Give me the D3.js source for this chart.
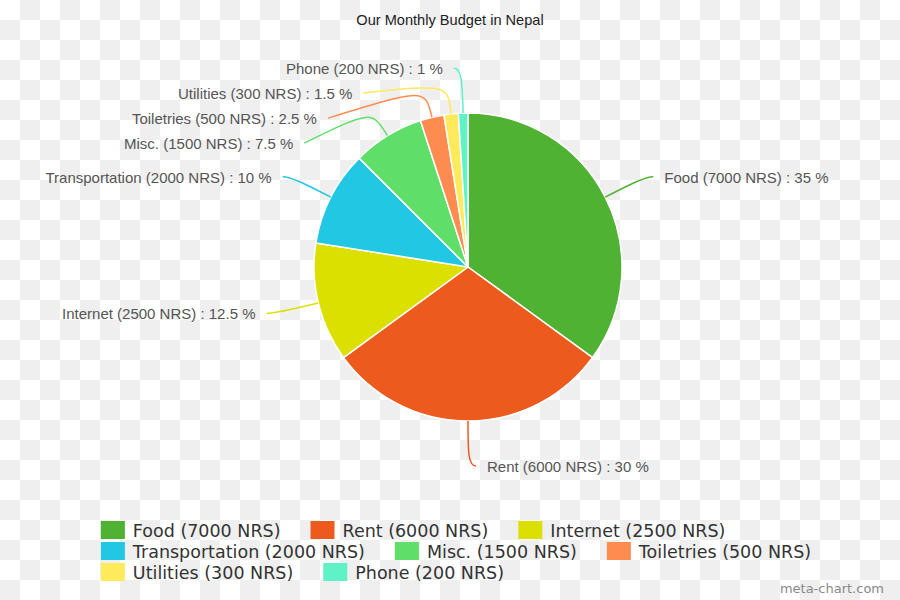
<!DOCTYPE html>
<html><head><meta charset="utf-8">
<script src="https://cdn.jsdelivr.net/npm/d3@7"></script>
<style>
body{margin:0;background:#fff;}
svg{display:block;}
</style></head><body>
<svg id="c" width="900" height="600"></svg>
<script>
const title = "Our Monthly Budget in Nepal";
const categories = ["Food","Rent","Internet","Transportation","Misc.","Toiletries","Utilities","Phone"];
const amounts = [7000,6000,2500,2000,1500,500,300,200];
const colors = ["#4fb233","#ec5a1e","#dce000","#22c8e3","#5fdf6a","#fe8c50","#feea5a","#5ef2c6"];
const currency = "NRS";
const watermark = "meta-chart.com";

const W = 900, H = 600;
const svg = d3.select("#c");

// checkerboard (transparent background look)
const defs = svg.append("defs");
const pat = defs.append("pattern").attr("id","chk").attr("width",40).attr("height",40).attr("patternUnits","userSpaceOnUse");
pat.append("rect").attr("width",40).attr("height",40).attr("fill","#ffffff");
pat.append("rect").attr("x",20).attr("y",0).attr("width",20).attr("height",20).attr("fill","#efefef");
pat.append("rect").attr("x",0).attr("y",20).attr("width",20).attr("height",20).attr("fill","#efefef");
svg.append("rect").attr("width",W).attr("height",H).attr("fill","url(#chk)");

const data = categories.map((c,i)=>({name:c, amount:amounts[i], color:colors[i]}));
const total = d3.sum(amounts);
const fmtPct = d3.format("~g");

svg.append("text").attr("x",450).attr("y",25).attr("text-anchor","middle")
  .attr("font-family","'Liberation Sans', Arial, sans-serif").attr("font-size",14.6).attr("fill","#222")
  .text(title);

const cx = 468, cy = 267, r = 154, R = 199;
const pie = d3.pie().sort(null).value(d=>d.amount);
const arcs = pie(data);
const arc = d3.arc().innerRadius(0).outerRadius(r);

const g = svg.append("g").attr("transform",`translate(${cx},${cy})`);
g.selectAll("path").data(arcs).join("path")
  .attr("d",arc).attr("fill",d=>d.data.color)
  .attr("stroke","#fff").attr("stroke-width",1.5).attr("stroke-linejoin","round");

// label layout
const pt = (a,rad)=>[cx + rad*Math.sin(a), cy - rad*Math.cos(a)];
const labels = arcs.map(d=>{
  const mid = (d.startAngle+d.endAngle)/2;
  const side = mid <= Math.PI + 1e-9 ? 1 : -1;
  const L = pt(mid,R);
  return {d, mid, side, x:L[0], y:L[1], y0:L[1], moved:false};
});
[1,-1].forEach(s=>{
  const grp = labels.filter(l=>l.side===s).sort((a,b)=>a.y0-b.y0);
  let prev = -Infinity;
  grp.forEach(l=>{
    if (l.y < prev + 25) { l.y = prev + 25; l.moved = true; }
    prev = l.y;
  });
  grp.forEach(l=>{
    if (l.moved) {
      const dy = l.y - cy;
      const dx = Math.abs(dy) < R ? Math.sqrt(R*R - dy*dy) : 0;
      l.x = cx + s*dx;
    }
  });
});

const lg = svg.append("g");
labels.forEach(l=>{
  const e = pt(l.mid, r);
  const c1 = pt(l.mid, r+30);
  const c2 = l.moved ? c1 : [l.x, l.y];
  const end = [l.x + l.side*8, l.y];
  lg.append("path")
    .attr("d",`M${e[0]},${e[1]}C${c1[0]},${c1[1]} ${c2[0]},${c2[1]} ${end[0]},${end[1]}`)
    .attr("fill","none").attr("stroke",l.d.data.color).attr("stroke-width",1.5);
  lg.append("text")
    .attr("x", l.x + l.side*19).attr("y", l.y + 6)
    .attr("text-anchor", l.side>0 ? "start" : "end")
    .attr("font-family","'Liberation Sans', Arial, sans-serif").attr("font-size",15).attr("fill","#555")
    .text(`${l.d.data.name} (${l.d.data.amount} ${currency}) : ${fmtPct(l.d.data.amount/total*100)} %`);
});

// legend (flow layout)
const legG = svg.append("g");
const items = data.map(d=>{
  const gi = legG.append("g");
  gi.append("rect").attr("width",24).attr("height",18).attr("fill",d.color);
  const t = gi.append("text").attr("x",32).attr("y",15.5)
    .attr("font-family","'DejaVu Sans', Verdana, sans-serif").attr("font-size",17.5).attr("fill","#333")
    .text(`${d.name} (${d.amount} ${currency})`);
  return {gi, w: 32 + t.node().getComputedTextLength()};
});
const maxW = 720, gap = 30, rowH = 21;
const rows = [[]]; let cur = 0;
items.forEach(it=>{
  const need = (rows[rows.length-1].length ? gap : 0) + it.w;
  if (rows[rows.length-1].length && cur + need > maxW) { rows.push([]); cur = 0; }
  const row = rows[rows.length-1];
  it.x = row.length ? cur + gap : 0;
  cur = it.x + it.w;
  row.push(it);
});
const blockW = d3.max(rows, row=>{ const l=row[row.length-1]; return l.x + l.w; });
const x0 = 456 - blockW/2, y0 = 521;
rows.forEach((row,ri)=> row.forEach(it=> it.gi.attr("transform",`translate(${x0+it.x},${y0+ri*rowH})`)));

svg.append("text").attr("x",884).attr("y",593).attr("text-anchor","end")
  .attr("font-family","'DejaVu Sans', Verdana, sans-serif").attr("font-size",13).attr("fill","#888")
  .text(watermark);
</script>
</body></html>
